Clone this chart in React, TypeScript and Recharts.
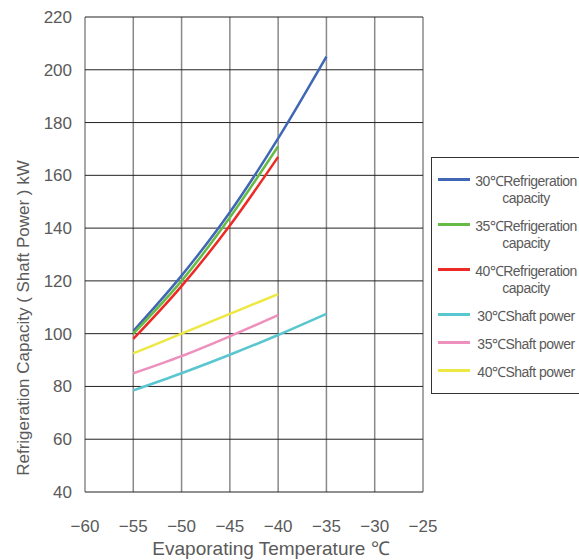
import React from 'react';
import { LineChart, Line, XAxis, YAxis, CartesianGrid, Label } from 'recharts';

const temps = [-55, -50, -45, -40, -35];
const xTicks = [-60, -55, -50, -45, -40, -35, -30, -25];
const yTicks = [40, 60, 80, 100, 120, 140, 160, 180, 200, 220];

const cap30 = [101, 122, 146, 174, 205];
const cap35 = [100, 120, 144, 171];
const cap40 = [98, 118, 141, 167];
const shaft30 = [78.5, 85, 92, 99.5, 107.5];
const shaft35 = [85, 91.5, 99, 107];
const shaft40 = [92.5, 100, 107.5, 115];

const seriesNames = [
  '30℃Refrigeration capacity',
  '35℃Refrigeration capacity',
  '40℃Refrigeration capacity',
  '30℃Shaft power',
  '35℃Shaft power',
  '40℃Shaft power',
];
const seriesValues = [cap30, cap35, cap40, shaft30, shaft35, shaft40];
const COLORS = ['#3f67b5', '#66bb44', '#ec2a26', '#5ac6d0', '#ee90bd', '#eee845'];

const series = seriesValues.map((vals, i) => ({
  name: seriesNames[i],
  color: COLORS[i],
  data: vals.map((y, j) => ({ x: temps[j], y })),
}));

const FONT = '"Liberation Sans", Arial, sans-serif';
const TEXT = '#5a5a5a';
const fmt = (v: number) => String(v).replace('-', '\u2212');

const LegendBox = () => (
  <div
    style={{
      position: 'absolute',
      left: 431,
      top: 157,
      border: '1px solid #333',
      background: '#fff',
      padding: '15px 0 12px 6px',
      width: 170,
      fontFamily: FONT,
      fontSize: 14,
      lineHeight: '17px',
      color: TEXT,
    }}
  >
    {series.map((s, i) => {
      const isCap = s.name.endsWith(' capacity');
      return (
        <div key={i} style={{ display: 'flex', alignItems: 'flex-start', marginBottom: i < 5 ? 11 : 0 }}>
          <div style={{ width: 32, height: 3, background: s.color, marginTop: 5, flexShrink: 0 }} />
          <div style={{ width: 106, paddingLeft: 3, textAlign: 'center', whiteSpace: 'nowrap', letterSpacing: -0.5 }}>
            {isCap ? (
              <>
                <div>{s.name.replace(' capacity', '')}</div>
                <div>capacity</div>
              </>
            ) : (
              <div>{s.name}</div>
            )}
          </div>
        </div>
      );
    })}
  </div>
);

export default function App() {
  return (
    <div style={{ position: 'absolute', left: 0, top: 0, width: 579, height: 560, overflow: 'hidden', background: '#fff' }}>
      <LineChart width={579} height={560} margin={{ top: 17, right: 156, left: 0, bottom: 0 }}>
        <CartesianGrid horizontal={false} stroke="#8c8888" strokeWidth={1.5} />
        <CartesianGrid vertical={false} stroke="#222" strokeWidth={1} />
        <XAxis
          type="number"
          dataKey="x"
          domain={[-60, -25]}
          ticks={xTicks}
          tickFormatter={fmt}
          axisLine={false}
          tickLine={false}
          tickSize={0}
          tickMargin={28}
          height={68}
          tick={{ fill: TEXT, fontSize: 17, fontFamily: FONT }}
          allowDuplicatedCategory={false}
        >
          <Label
            content={() => (
              <text x={271} y={555} textAnchor="middle" fill={TEXT} fontSize={19} fontFamily={FONT}>
                Evaporating Temperature ℃
              </text>
            )}
          />
        </XAxis>
        <YAxis
          type="number"
          domain={[40, 220]}
          ticks={yTicks}
          axisLine={false}
          tickLine={false}
          tickSize={0}
          tickMargin={13}
          width={85}
          tick={{ fill: TEXT, fontSize: 17, fontFamily: FONT }}
        >
          <Label
            content={() => (
              <text
                x={23}
                y={318}
                transform="rotate(-90 23 318)"
                textAnchor="middle"
                dominantBaseline="central"
                fill={TEXT}
                fontSize={17}
                fontFamily={FONT}
              >
                Refrigeration Capacity ( Shaft Power ) kW
              </text>
            )}
          />
        </YAxis>
        {series.map((s) => (
          <Line
            key={s.name}
            data={s.data}
            dataKey="y"
            name={s.name}
            type="monotone"
            stroke={s.color}
            strokeWidth={2.5}
            dot={false}
            activeDot={false}
            isAnimationActive={false}
          />
        ))}
      </LineChart>
      <LegendBox />
    </div>
  );
}
